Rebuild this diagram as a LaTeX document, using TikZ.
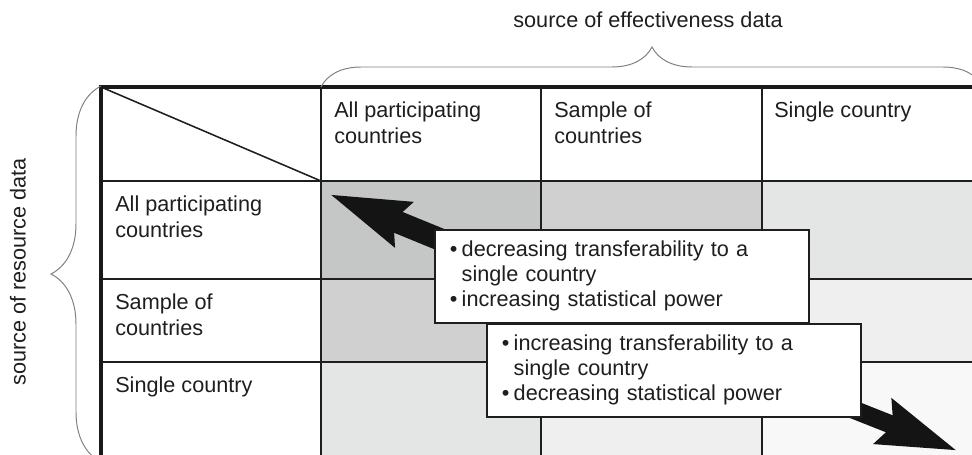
\documentclass[tikz,border=0pt]{standalone}
\usepackage{fontspec}
\setmainfont{Liberation Sans}
\usetikzlibrary{arrows.meta,decorations.pathreplacing}
\definecolor{shadeA}{RGB}{197,198,198}
\definecolor{shadeB}{RGB}{208,208,208}
\definecolor{shadeC}{RGB}{228,229,229}
\definecolor{shadeD}{RGB}{239,239,239}
\definecolor{shadeE}{RGB}{248,248,248}
\definecolor{ink}{RGB}{30,30,30}
\definecolor{bracegray}{RGB}{128,128,128}

\begin{document}
\begin{tikzpicture}[x=0.025cm, y=-0.025cm,
  every node/.style={font=\fontsize{15.4}{17.8}\selectfont, text=ink},
  celltext/.style={anchor=north west, inner sep=0pt, align=left},
  gridline/.style={ink, line width=1.1pt},
  rimline/.style={black!90, line width=3.3pt},
  curly/.style={bracegray, line width=0.7pt, decorate, decoration={brace, amplitude=#1}},
  infobox/.style={draw=ink, line width=1.1pt, fill=white, anchor=north west,
    inner xsep=0.375cm, text width=8.6cm, minimum height=2.325cm, align=left},
  blockarrow/.style={-{Stealth[length=1.95cm,width=1.12cm,inset=0.22cm]}, line width=#1, black!92}]
\useasboundingbox (0,0) rectangle (972,454);
\clip (0,0) rectangle (972,454);

% Shaded cells
\fill[shadeA] (321,181) rectangle (541,279);
\fill[shadeB] (541,181) rectangle (762,279);
\fill[shadeC] (762,181) rectangle (982,279);
\fill[shadeB] (321,279) rectangle (541,362);
\fill[shadeC] (541,279) rectangle (762,362);
\fill[shadeD] (762,279) rectangle (982,362);
\fill[shadeC] (321,362) rectangle (541,462);
\fill[shadeD] (541,362) rectangle (762,462);
\fill[shadeE] (762,362) rectangle (982,462);

% Grid
\foreach \y in {181,279,362} \draw[gridline] (101,\y) -- (982,\y);
\foreach \x in {321,541,762} \draw[gridline] (\x,87) -- (\x,462);
\draw[gridline] (101,87) -- (321,181);
\draw[rimline] (101,462) -- (101,87) -- (982,87);

% Column headers
\node[celltext] (colA) at (334,102) {All participating\\countries};
\node[celltext] (colB) at (554,102) {Sample of\\countries};
\node[celltext] (colC) at (774,102) {Single country};

% Row headers
\node[celltext] (rowA) at (115,196) {All participating\\countries};
\node[celltext] (rowB) at (115,294) {Sample of\\countries};
\node[celltext] (rowC) at (115,377) {Single country};

% Braces and axis labels
\draw[curly=1cm] (321,87) -- (983,87);
\draw[curly=1.25cm] (101,462) -- (101,86);
\node (effdata) at (648,20) {source of effectiveness data};
\node[rotate=90] (resdata) at (18,272) {source of resource data};

% Arrows
\coordinate (tailA) at (483,257);
\coordinate (tipA) at (329,194);
\coordinate (tailB) at (804,390);
\coordinate (tipB) at (958,451);
\draw[blockarrow=16pt] (tailA) -- (tipA);
\draw[blockarrow=13pt] (tailB) -- (tipB);

% Trade-off boxes
\node[infobox] (boxA) at (434,229) {\makebox[8.5pt][l]{\textbullet}decreasing transferability to a\\
  \hspace*{8.5pt}single country\\
  \makebox[8.5pt][l]{\textbullet}increasing statistical power};
\node[infobox] (boxB) at (486,323) {\makebox[8.5pt][l]{\textbullet}increasing transferability to a\\
  \hspace*{8.5pt}single country\\
  \makebox[8.5pt][l]{\textbullet}decreasing statistical power};
\end{tikzpicture}
\end{document}
